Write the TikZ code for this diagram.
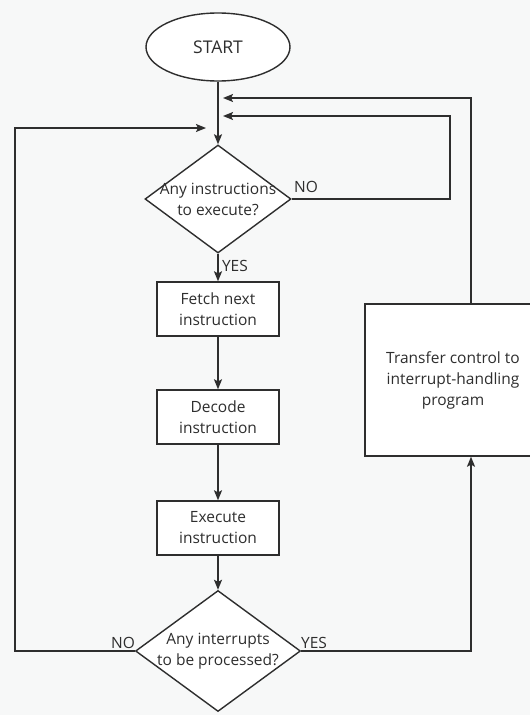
\documentclass[tikz,border=0pt]{standalone}
\usepackage{fontspec}
\setmainfont{Open Sans}
\usetikzlibrary{shapes.geometric,arrows.meta}
\definecolor{ink}{HTML}{2E2E2E}
\definecolor{paper}{HTML}{F7F8F8}
\begin{document}
\begin{tikzpicture}[x=1pt,y=-1pt,every node/.style={font=\fontsize{15.5}{21}\selectfont, text=ink}]
		\tikzstyle{Terminal} = [ellipse, minimum width=144pt, minimum height=68pt, inner sep=0pt, text centered, draw=ink, line width=1.4pt, fill=white, font=\fontsize{17.5}{21}\selectfont]
		\tikzstyle{Decision} = [diamond, aspect=1.35, inner sep=-6pt, align=center, draw=ink, line width=1.4pt, fill=white]
		\tikzstyle{Process} = [rectangle, minimum width=122pt, minimum height=54pt, align=center, draw=ink, line width=1.4pt, fill=white]
		\tikzstyle{arrow} = [draw=ink, line width=1.4pt, ->, >={Stealth[length=10pt,width=8pt,inset=2pt]}]
		
		\clip (0,0) rectangle (530,715);
		\fill [paper] (0,0) rectangle (530,715);
		
		\node (start) [Terminal] at (218,47) {START};
		\node (anyInstr) [Decision, minimum width=146pt, minimum height=108pt] at (218,199) {Any instructions\\to execute?};
		\node (fetch) [Process] at (218,309) {Fetch next\\instruction};
		\node (decode) [Process] at (218,417) {Decode\\instruction};
		\node (execute) [Process] at (218,528) {Execute\\instruction};
		\node (anyIntr) [Decision, minimum width=165pt, minimum height=121pt] at (218,651) {Any interrupts\\to be processed?};
		\node (transfer) [Process, minimum width=176pt, minimum height=152pt] at (453,380) {Transfer control to\\interrupt-handling\\program};
		
		\coordinate (backIn) at (223,98);
		\coordinate (noIn) at (223,116);
		\coordinate (loopIn) at (206,128);
		\coordinate (backX) at (471,98);
		\coordinate (noX) at (450,116);
		\coordinate (loopX) at (15,128);
		
		\draw [arrow] (start) -- (anyInstr);
		\draw [arrow] (anyInstr) -- node [right, xshift=0pt, yshift=2pt] {YES} (fetch);
		\draw [arrow] (fetch) -- (decode);
		\draw [arrow] (decode) -- (execute);
		\draw [arrow] (execute) -- (anyIntr);
		
		\draw [arrow] (anyInstr.east) -| (noX) -- (noIn);
		\draw [arrow] (transfer.north -| backX) -- (backX) -- (backIn);
		\draw [arrow] (anyIntr.west) -| (loopX) -- (loopIn);
		\draw [arrow] (anyIntr.east) -| (transfer.south -| backX);
		
		\node (noTop) at (306,187) {NO};
		\node (noBottom) at (123,643) {NO};
		\node (yesBottom) at (314,643) {YES};
		\end{tikzpicture}
\end{document}
